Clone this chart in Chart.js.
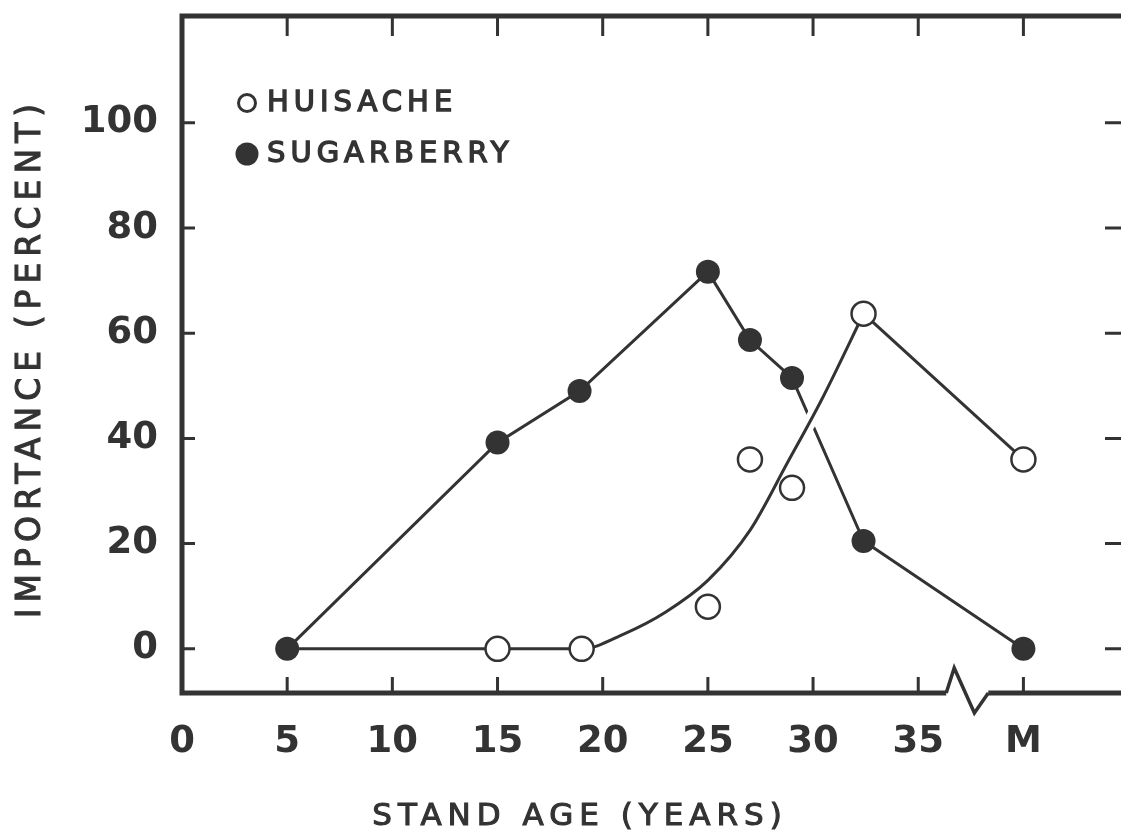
<!DOCTYPE html>
<html lang="en">
<head>
  <meta charset="UTF-8">
  <title>Importance vs stand age</title>
  <script src="https://cdn.jsdelivr.net/npm/chart.js"></script>
  <style>
    body {
      margin: 0;
      background: #fff;
      overflow: hidden;
    }
    canvas {
      display: block;
    }
  </style>
</head>
<body>

<canvas id="chart" width="1121" height="834"></canvas>

<script>
  // data (x = stand age in years, "M" plotted at 40)
  const xTicks = [0, 5, 10, 15, 20, 25, 30, 35, 40];
  const xTickLabels = ['0', '5', '10', '15', '20', '25', '30', '35', 'M'];
  const yTicks = [0, 20, 40, 60, 80, 100];

  const sugarberryAge = [5, 15, 18.9, 25, 27, 29, 32.4, 40];
  const sugarberryImp = [0, 39.2, 49, 71.7, 58.7, 51.5, 20.5, 0];

  const huisacheAge = [15, 19, 25, 27, 29, 32.4, 40];
  const huisacheImp = [0, 0, 8, 36, 30.6, 63.7, 36];

  // hand-fitted curve drawn through the huisache points
  const fitAge = [5, 15, 19, 21, 23, 25, 27, 28.8, 30.4, 32.4];
  const fitImp = [0, 0, 0, 2.8, 7, 13, 22.5, 35.5, 47.3, 63.7];
  const tailAge = [32.4, 40];
  const tailImp = [63.7, 36];

  const ink = '#333';
  const pts = (xs, ys) => xs.map((x, i) => ({ x: x, y: ys[i] }));

  function heavyText(ctx, txt, x, y, w) {
    ctx.lineWidth = w;
    ctx.strokeText(txt, x, y);
    ctx.fillText(txt, x, y);
  }

  const framePlugin = {
    id: 'frame',
    afterDatasetsDraw(chart) {
      const ctx = chart.ctx;
      const a = chart.chartArea;
      const xs = chart.scales.x;
      const ys = chart.scales.y;
      const right = chart.width;
      ctx.save();
      ctx.strokeStyle = ink;
      ctx.lineCap = 'butt';

      // frame: top, left, bottom (with the break)
      ctx.lineWidth = 5;
      const bx1 = xs.getPixelForValue(36.33);
      const bx2 = xs.getPixelForValue(36.71);
      const bx3 = xs.getPixelForValue(37.67);
      const bx4 = xs.getPixelForValue(38.33);
      ctx.beginPath();
      ctx.moveTo(right, a.top);
      ctx.lineTo(a.left, a.top);
      ctx.lineTo(a.left, a.bottom);
      ctx.lineTo(bx1, a.bottom);
      ctx.stroke();
      ctx.lineWidth = 3.5;
      ctx.beginPath();
      ctx.moveTo(bx1, a.bottom);
      ctx.lineTo(bx2, a.bottom - 25);
      ctx.lineTo(bx3, a.bottom + 20);
      ctx.lineTo(bx4, a.bottom);
      ctx.stroke();
      ctx.lineWidth = 5;
      ctx.beginPath();
      ctx.moveTo(bx4, a.bottom);
      ctx.lineTo(right, a.bottom);
      ctx.stroke();

      // inner tick marks
      ctx.lineWidth = 3;
      xTicks.forEach(v => {
        if (v === 0) return;
        const px = xs.getPixelForValue(v);
        ctx.beginPath();
        ctx.moveTo(px, a.bottom);
        ctx.lineTo(px, a.bottom - 16);
        ctx.moveTo(px, a.top);
        ctx.lineTo(px, a.top + 20);
        ctx.stroke();
      });
      yTicks.forEach(v => {
        const py = ys.getPixelForValue(v);
        ctx.beginPath();
        ctx.moveTo(a.left, py);
        ctx.lineTo(a.left + 13, py);
        ctx.moveTo(right, py);
        ctx.lineTo(right - 16, py);
        ctx.stroke();
      });

      // legend
      ctx.lineWidth = 3;
      ctx.fillStyle = '#fff';
      ctx.beginPath();
      ctx.arc(247, 103, 8.5, 0, Math.PI * 2);
      ctx.fill();
      ctx.stroke();
      ctx.fillStyle = ink;
      ctx.beginPath();
      ctx.arc(247, 154, 11.5, 0, Math.PI * 2);
      ctx.fill();

      ctx.font = '29px "DejaVu Sans"';
      ctx.letterSpacing = '5px';
      ctx.textAlign = 'left';
      ctx.textBaseline = 'middle';
      heavyText(ctx, 'HUISACHE', 267, 103, 1.4);
      heavyText(ctx, 'SUGARBERRY', 267, 154, 1.4);

      // axis titles
      ctx.font = '31px "DejaVu Sans"';
      ctx.letterSpacing = '6px';
      ctx.textAlign = 'center';
      heavyText(ctx, 'STAND AGE (YEARS)', 580, 817, 1.1);

      ctx.translate(31, 358);
      ctx.rotate(-Math.PI / 2);
      ctx.font = '33px "DejaVu Sans"';
      heavyText(ctx, 'IMPORTANCE (PERCENT)', 0, 0, 1.1);
      ctx.restore();
    }
  };

  new Chart(document.getElementById('chart'), {
    type: 'scatter',
    data: {
      datasets: [
        {
          label: 'Sugarberry',
          data: pts(sugarberryAge, sugarberryImp),
          showLine: true,
          borderColor: ink,
          borderWidth: 3,
          pointRadius: 12,
          pointBackgroundColor: ink,
          pointBorderColor: ink,
          pointBorderWidth: 0,
          order: 5
        },
        {
          // white gap where the fitted curve crosses the sugarberry line
          label: 'halo',
          data: pts(fitAge, fitImp),
          showLine: true,
          cubicInterpolationMode: 'monotone',
          borderWidth: 13,
          borderColor: 'rgba(0,0,0,0)',
          segment: {
            borderColor: c => (c.p0.parsed.x >= 28.7 && c.p1.parsed.x <= 30.5 ? '#fff' : 'rgba(0,0,0,0)')
          },
          pointRadius: 0,
          order: 4
        },
        {
          label: 'Huisache fit',
          data: pts(fitAge, fitImp),
          showLine: true,
          cubicInterpolationMode: 'monotone',
          borderColor: ink,
          borderWidth: 3,
          pointRadius: 0,
          order: 3
        },
        {
          label: 'Huisache tail',
          data: pts(tailAge, tailImp),
          showLine: true,
          borderColor: ink,
          borderWidth: 3,
          pointRadius: 0,
          order: 3
        },
        {
          label: 'Huisache',
          data: pts(huisacheAge, huisacheImp),
          showLine: false,
          pointRadius: 12,
          pointBackgroundColor: '#fff',
          pointBorderColor: ink,
          pointBorderWidth: 2.5,
          order: 1
        }
      ]
    },
    options: {
      responsive: false,
      animation: false,
      devicePixelRatio: 1,
      layout: { padding: { top: 16, right: 0, left: 0, bottom: 0 } },
      plugins: {
        legend: { display: false },
        tooltip: { enabled: false }
      },
      scales: {
        x: {
          type: 'linear',
          min: 0,
          max: 43.95,
          grid: { display: false, drawTicks: false },
          border: { display: false },
          afterFit: s => {
            s.height = 141;
            s.paddingLeft = 0;
            s.paddingRight = 0;
          },
          afterBuildTicks: s => { s.ticks = xTicks.map(v => ({ value: v })); },
          ticks: {
            padding: 27,
            color: ink,
            font: { family: 'DejaVu Sans', size: 37, weight: 'bold' },
            callback: v => xTickLabels[xTicks.indexOf(v)]
          }
        },
        y: {
          min: -8.4,
          max: 120.3,
          grid: { display: false, drawTicks: false },
          border: { display: false },
          afterFit: s => {
            s.width = 182;
            s.paddingTop = 0;
            s.paddingBottom = 0;
          },
          afterBuildTicks: s => { s.ticks = yTicks.map(v => ({ value: v })); },
          ticks: {
            padding: 24,
            color: ink,
            font: { family: 'DejaVu Sans', size: 37, weight: 'bold' }
          }
        }
      }
    },
    plugins: [framePlugin]
  });
</script>
</body>
</html>
